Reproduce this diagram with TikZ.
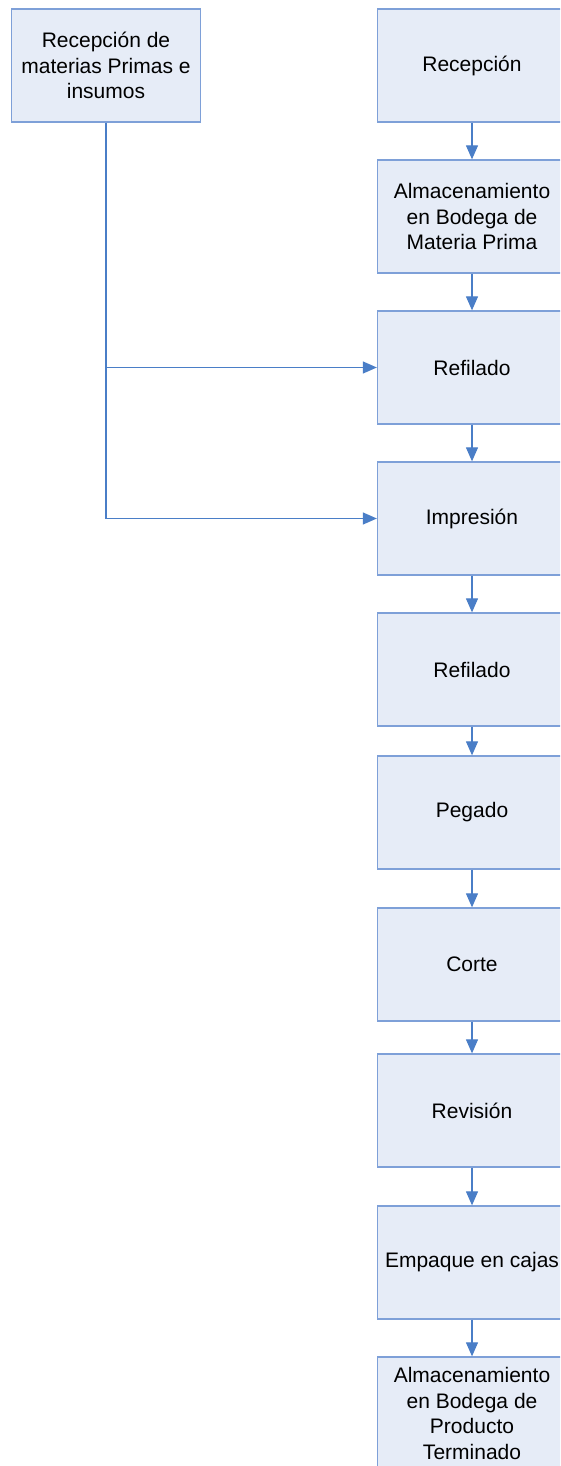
\documentclass[tikz,border=0pt]{standalone}
\usepackage{fontspec}
\setmainfont{Liberation Sans}
\usetikzlibrary{arrows.meta}
\definecolor{boxfill}{HTML}{E6ECF7}
\definecolor{boxline}{HTML}{7EA0D8}
\definecolor{flow}{HTML}{4A7EC7}
\begin{document}
\begin{tikzpicture}[x=1pt,y=1pt,
	proc/.style = {draw=boxline, fill=boxfill, line width=1.3pt, minimum width=189pt, minimum height=113pt, align=center, font=\fontsize{21}{25.5}\selectfont, inner sep=0pt},
	flw/.style = {draw=flow, line width=1.2pt, -{Triangle[length=14pt,width=12pt]}}]
				\useasboundingbox (0,0) rectangle (560,-1466);
				\clip (0,0) rectangle (560,-1466);
				\node[proc] (mp) at (106,-65.5) {Recepción de\\materias Primas e\\insumos};
				\node[proc] (rec) at (472,-65.5) {Recepción};
				\node[proc] (alm) at (472,-216.5) {Almacenamiento\\en Bodega de\\Materia Prima};
				\node[proc] (ref) at (472,-367.5) {Refilado};
				\node[proc] (imp) at (472,-518.5) {Impresión};
				\node[proc] (refb) at (472,-669.5) {Refilado};
				\node[proc] (peg) at (472,-812.5) {Pegado};
				\node[proc] (cor) at (472,-964.5) {Corte};
				\node[proc] (rev) at (472,-1110.5) {Revisión};
				\node[proc] (emp) at (472,-1262.5) {Empaque en cajas};
				\node[proc] (apt) at (472,-1413.5) {Almacenamiento\\en Bodega de\\Producto\\Terminado};

				\draw[flw] (rec) to (alm);
				\draw[flw] (alm) to (ref);
				\draw[flw] (ref) to (imp);
				\draw[flw] (imp) to (refb);
				\draw[flw] (refb) to (peg);
				\draw[flw] (peg) to (cor);
				\draw[flw] (cor) to (rev);
				\draw[flw] (rev) to (emp);
				\draw[flw] (emp) to (apt);
				\draw[flw] (mp.south) |- (imp.west);
				\draw[flw] (mp.south |- ref.west) -- (ref.west);
			\end{tikzpicture}
\end{document}
